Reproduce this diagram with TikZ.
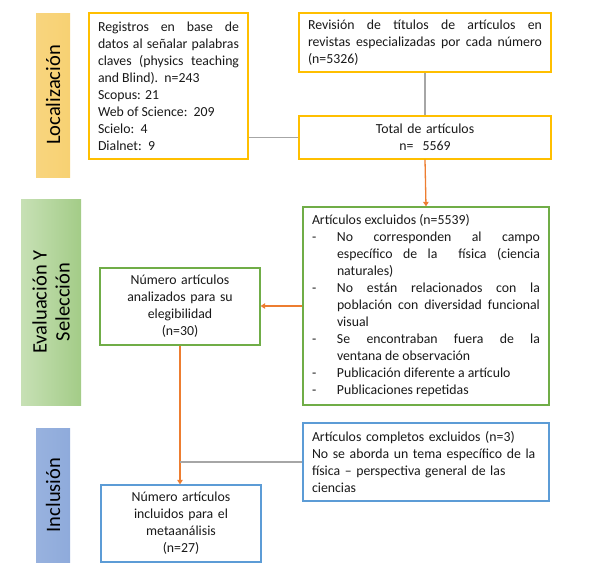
\documentclass[tikz,border=0pt]{standalone}
\usepackage{fontspec}
\setmainfont{Carlito}
\usetikzlibrary{arrows.meta,calc}
\definecolor{LocClr}{rgb}{1,0.75,0}
\definecolor{LocFill}{rgb}{0.97,0.82,0.45}
\definecolor{EvalClr}{rgb}{0.44,0.68,0.28}
\definecolor{EvalFillA}{rgb}{0.78,0.88,0.71}
\definecolor{EvalFillB}{rgb}{0.64,0.80,0.53}
\definecolor{IncClr}{rgb}{0.36,0.61,0.84}
\definecolor{IncFill}{rgb}{0.56,0.67,0.86}
\definecolor{ArrowClr}{rgb}{0.93,0.49,0.19}
\definecolor{LineClr}{rgb}{0.65,0.65,0.65}
\definecolor{TxtClr}{rgb}{0.1,0.1,0.1}

\hyphenpenalty=10000
\exhyphenpenalty=10000
\newcommand{\dashitem}[1]{\hangindent=25pt\hangafter=1\noindent\makebox[25pt][l]{-}#1\par}

\begin{document}
\begin{tikzpicture}[x=1pt,y=-1pt,
  font=\fontsize{13.8}{17}\selectfont, text=TxtClr,
  box/.style={draw,line width=1.3pt,fill=white,inner sep=0pt,
    minimum width=#1},
  barlbl/.style={rotate=90,inner sep=0pt,font=\fontsize{20.5}{23}\selectfont,
    text=black,align=center},
  grey line/.style={LineClr,line width=1.2pt},
  orange arrow/.style={ArrowClr,line width=1.3pt,
    -{Triangle[width=5.5pt,length=4.5pt]}}]

\useasboundingbox (0,0) rectangle (597,581);

% phase bars
\shade[left color=LocFill!92!white,right color=LocFill] (36,13) rectangle (70,177);
\shade[left color=EvalFillA,right color=EvalFillB] (21,199) rectangle (81,405);
\shade[left color=IncFill!92!white,right color=IncFill] (36,428) rectangle (70,562);
\node[barlbl] (loc) at (53,95) {Localización};
\node[barlbl] (eval) at (51,302) {Evaluación Y\\Selección};
\node[barlbl] (inc) at (53,495) {Inclusión};

% boxes
\node[box=159pt,draw=LocClr,minimum height=146pt,text width=141pt,align=justify]
  (reg) at (168.5,86) {Registros en base de\linebreak datos al señalar palabras\linebreak
  claves (physics teaching\linebreak and Blind).~~n=243\\
  Scopus: 21\\ Web of Science:~~209\\ Scielo:~~4\\ Dialnet:~~9};
\node[box=252pt,draw=LocClr,minimum height=59pt,text width=234pt,align=justify]
  (rev) at (425,42.5) {Revisión de títulos de artículos en\linebreak
  revistas especializadas por cada número\linebreak (n=5326)};
\node[box=252pt,draw=LocClr,minimum height=43pt,text width=234pt,align=center]
  (tot) at (425,137.5) {Total de artículos\\ n=~~5569};
\node[box=246pt,draw=EvalClr,minimum height=198pt,text width=228pt,align=justify]
  (exc) at (426,306) {\noindent Artículos excluidos (n=5539)\par
  \dashitem{No corresponden al campo\linebreak específico de la~~física (ciencia\linebreak naturales)}
  \dashitem{No están relacionados con la\linebreak población con diversidad funcional\linebreak visual}
  \dashitem{Se encontraban fuera de la\linebreak ventana de observación}
  \dashitem{Publicación diferente a artículo}
  \dashitem{Publicaciones repetidas}};
\node[box=160pt,draw=EvalClr,minimum height=77pt,text width=140pt,align=center]
  (ana) at (180,306.5) {Número artículos\\ analizados para su\\ elegibilidad\\ (n=30)};
\node[box=160pt,draw=IncClr,minimum height=77pt,text width=140pt,align=center]
  (fin) at (181,523.5) {Número artículos\\ incluidos para el\\ metaanálisis\\ (n=27)};
\node[box=246pt,draw=IncClr,minimum height=78pt,text width=228pt,align=left]
  (com) at (426,462) {Artículos completos excluidos (n=3)\\ No se aborda un tema específico de la\\ física -- perspectiva general de las\\ ciencias};

% connectors
\draw[grey line] (rev.south) -- (tot.north);
\draw[grey line] (tot.west) -- (tot.west -| reg.east);
\draw[orange arrow] (tot.south) -- (exc.north);
\draw[orange arrow] (exc.west) -- (exc.west -| ana.east);
\draw[orange arrow] (ana.south) -- (ana.south |- fin.north);
\draw[grey line] (ana.south |- com.west) -- (com.west);

\end{tikzpicture}
\end{document}
